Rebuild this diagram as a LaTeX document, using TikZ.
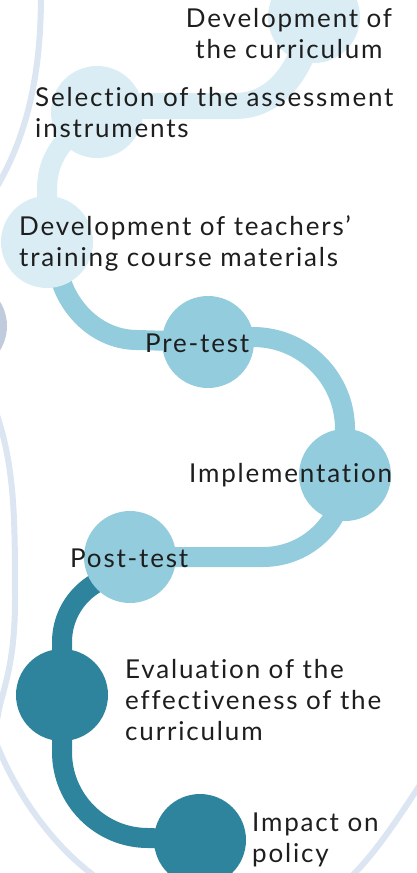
\documentclass[tikz,border=0pt]{standalone}
\usepackage{fontspec}
\setmainfont{Lato}[LetterSpace=7, Ligatures={NoCommon,NoRequired,NoContextual}]
\usetikzlibrary{backgrounds}
\definecolor{pale}{HTML}{DAEDF5}
\definecolor{mid}{HTML}{93CCDD}
\definecolor{deep}{HTML}{2E849C}
\definecolor{haze}{HTML}{DCE5F2}
\definecolor{slate}{HTML}{C1CBDE}
\definecolor{ink}{HTML}{1E1E1E}
\begin{document}
\begin{tikzpicture}[x=1pt,y=-1pt,
  dot/.style={circle, minimum size=92pt, inner sep=0pt},
  band/.style={line width=20pt},
  rim/.style={draw=haze, line width=6pt},
  lbl/.style={inner sep=0pt, text=ink, font=\fontsize{26}{31}\selectfont}]
\useasboundingbox (0,0) rectangle (417,873);

% stages
\node[dot, fill=pale] (c1) at (314,17) {};
\node[dot, fill=pale] (c2) at (97,112) {};
\node[dot, fill=pale] (c3) at (47,242) {};
\node[dot, fill=mid]  (c4) at (208,342) {};
\node[dot, fill=mid]  (c5) at (345,475) {};
\node[dot, fill=mid]  (c6) at (130,557) {};
\node[dot, fill=deep] (c7) at (62,695) {};
\node[dot, fill=deep] (c8) at (200,840) {};

\begin{scope}[on background layer]
% background outlines
\draw[rim] (41,-5) .. controls (41,80) and (25,140) .. (-5,190);
\fill[slate] (-39,326) circle (46);
\draw[rim] (-3,415) .. controls (15,470) and (15,520) .. (15,600)
  .. controls (15,690) and (-8,700) .. (-3,745)
  .. controls (15,790) and (50,845) .. (100,880);
\draw[rim] (420,785) .. controls (398,818) and (378,850) .. (350,878);

% connecting track between the stages
\draw[band, draw=pale, line width=26pt] (c2.center) -- ++(0,-6) -- (235,106)
  .. controls (270,106) and (300,80) .. (c1.center);
\draw[band, draw=pale] (c2.center) .. controls (60,140) and (47,160) .. (47,190) -- (c3.center);
\draw[band, draw=mid] (c3.center) -- (57,255) .. controls (57,299.2) and (92.8,340) .. (137,340) -- (c4.center);
\draw[band, draw=mid] (c4.center) -- ++(0,-5) -- (253,337) .. controls (303.8,337) and (345,378.2) .. (345,429) -- (c5.center);
\draw[band, draw=mid] (c5.center) .. controls (345,520.3) and (308.3,557) .. (263,557) -- (c6.center);
\draw[band, draw=deep] (c6.center) -- (130,574) .. controls (92.5,574) and (62,604.5) .. (62,642) -- (c7.center);
\draw[band, draw=deep] (c7.center) -- (62,752) .. controls (62,799.5) and (100.5,838) .. (148,838) -- (c8.center);
\end{scope}

% labels (base anchor sits on the last line)
\node[lbl, anchor=base, align=center] (t1) at (289,58) {Development of\\the curriculum};
\node[lbl, anchor=base west, align=left] (t2) at (35,137) {Selection of the assessment\\instruments};
\node[lbl, anchor=base west, align=left] (t3) at (19,266) {Development of teachers’\\training course materials};
\node[lbl, anchor=base west] (t4) at (145,352) {Pre-test};
\node[lbl, anchor=base west] (t5) at (189,482) {Implementation};
\node[lbl, anchor=base west] (t6) at (70,567) {Post-test};
\node[lbl, anchor=base west, align=left] (t7) at (125,740) {Evaluation of the\\effectiveness of the\\curriculum};
\node[lbl, anchor=base west, align=left] (t8) at (252,862) {Impact on\\policy};
\end{tikzpicture}
\end{document}
